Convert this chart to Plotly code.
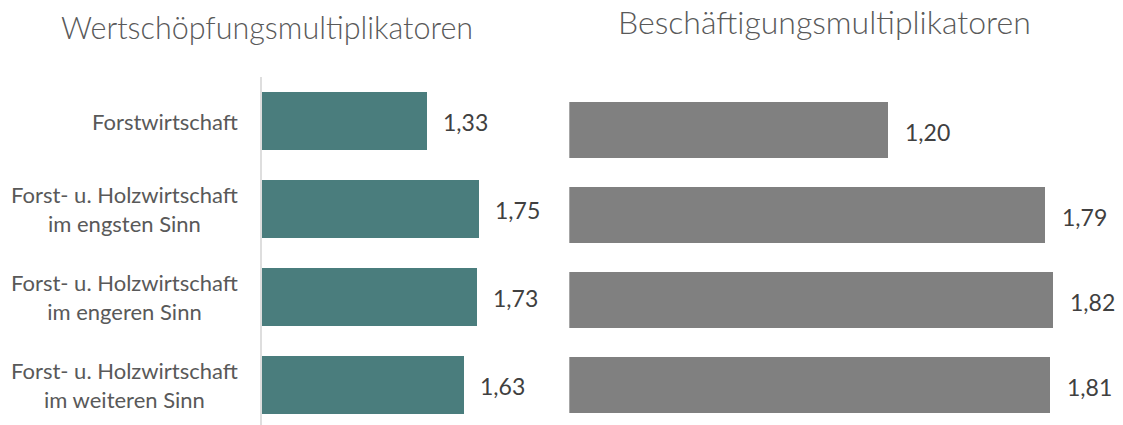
import plotly.graph_objects as go

categories = [
    "Forstwirtschaft",
    "Forst- u. Holzwirtschaft<br>im engsten Sinn",
    "Forst- u. Holzwirtschaft<br>im engeren Sinn",
    "Forst- u. Holzwirtschaft<br>im weiteren Sinn",
]
wertschoepfung = [1.33, 1.75, 1.73, 1.63]
beschaeftigung = [1.20, 1.79, 1.82, 1.81]
titles = ["Wertschöpfungsmultiplikatoren", "Beschäftigungsmultiplikatoren"]

W, H = 1123, 425
FONT = "Lato"
TXT = "#595959"
VAL = "#404040"


def px(x):
    return x / W


def py(y):
    return 1 - y / H


idx = list(range(len(categories)))

fig = go.Figure()
fig.add_trace(go.Bar(
    y=idx, x=wertschoepfung, orientation="h", width=0.66,
    marker=dict(color="#4A7D7D", line=dict(width=0)),
    xaxis="x", yaxis="y", hoverinfo="skip", showlegend=False,
))
fig.add_trace(go.Bar(
    y=idx, x=beschaeftigung, orientation="h", width=0.66,
    marker=dict(color="#808080", line=dict(width=0)),
    xaxis="x2", yaxis="y2", hoverinfo="skip", showlegend=False,
))

ann = []
for i, v in zip(idx, wertschoepfung):
    ann.append(dict(x=v, y=i, xref="x", yref="y", text=f"{v:.2f}".replace(".", ","),
                    showarrow=False, xanchor="left", xshift=14, yshift=-1,
                    font=dict(family=FONT, size=23, color=VAL)))
for i, v in zip(idx, beschaeftigung):
    ann.append(dict(x=v, y=i, xref="x2", yref="y2", text=f"{v:.2f}".replace(".", ","),
                    showarrow=False, xanchor="left", xshift=15, yshift=-2,
                    font=dict(family=FONT, size=23, color=VAL)))
for i, c in zip(idx, categories):
    ann.append(dict(x=px(240), y=i, xref="paper", yref="y", text=c,
                    showarrow=False, xanchor="right", align="center",
                    font=dict(family=FONT, size=22, color=TXT)))
ann.append(dict(x=px(267), y=py(27), xref="paper", yref="paper", text=titles[0],
                showarrow=False, xanchor="center", yanchor="middle",
                font=dict(family=FONT, size=30.5, color=TXT, weight=300)))
ann.append(dict(x=px(824), y=py(22), xref="paper", yref="paper", text=titles[1],
                showarrow=False, xanchor="center", yanchor="middle",
                font=dict(family=FONT, size=32, color=TXT, weight=300)))

top = py(77)
fig.update_layout(
    width=W, height=H,
    margin=dict(l=0, r=0, t=0, b=0),
    paper_bgcolor="white", plot_bgcolor="white",
    xaxis=dict(domain=[px(262), px(262 + 124 * 2.3)], range=[0, 2.3], visible=False),
    yaxis=dict(domain=[0, top], range=[3.459, -0.505], showticklabels=False,
               showgrid=False, zeroline=False, showline=True, linecolor="#DEDEDE",
               linewidth=2, ticks=""),
    xaxis2=dict(domain=[px(569.3), px(569.3 + 265.8 * 2.0)], range=[0, 2.0], visible=False),
    yaxis2=dict(domain=[0, top], range=[3.471, -0.628], anchor="x2", visible=False),
    annotations=ann,
    bargap=0,
)
fig.write_html(
    "out.html",
    config={"displayModeBar": False},
    post_script="document.body.style.margin='0';document.body.style.overflow='hidden';",
)
